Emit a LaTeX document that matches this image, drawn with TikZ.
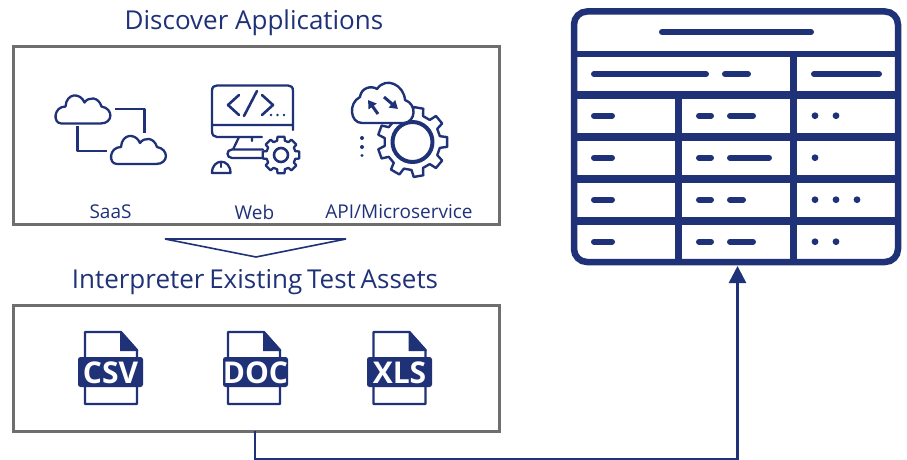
\documentclass[tikz,border=0pt]{standalone}
\usepackage{fontspec}
\setmainfont{Open Sans}
\usetikzlibrary{arrows.meta,calc}
\definecolor{navy}{HTML}{1F3278}
\definecolor{boxgray}{HTML}{6E6E6E}
\tikzset{
  panel/.style={draw=boxgray,line width=3pt,inner sep=0pt,outer sep=0pt,anchor=north west},
  heading/.style={text=navy,font=\fontsize{26}{28}\selectfont,inner sep=0pt},
  caption/.style={text=navy,font=\fontsize{19}{21}\selectfont,inner sep=0pt},
  icon/.style={draw=navy,line width=2.3pt,line cap=round,line join=round},
  grid/.style={draw=navy,line width=6.5pt},
  gridb/.style={draw=navy,line width=8pt},
  bar/.style={draw=navy,line width=6pt,line cap=round},
  dotm/.style={fill=navy,draw=none},
  flow/.style={draw=navy,line width=2.5pt},
  filetag/.style={fill=navy,rounded corners=2.5pt,draw=none},
  filetext/.style={text=white,font=\bfseries\fontsize{30}{30}\selectfont,inner sep=0pt},
  fileicon/.style={draw=navy,line width=2.2pt,line join=round,fill=white},
}
\newcommand{\cloudshape}[3]{% x y scale
  \begin{scope}[shift={(#1,#2)},scale=#3]
  \draw[icon] (-22,14) -- (17,14) .. controls (30,14) and (30,-1) .. (18,-3)
   .. controls (15,-13) and (5,-13) .. (1,-7)
   .. controls (-3,-17) and (-17,-17) .. (-18,-3)
   .. controls (-30,-3) and (-31,14) .. (-22,14) -- cycle;
  \end{scope}}
\newcommand{\gearshape}[6]{% x y outer lw period halfwidth
  \pgfmathsetmacro{\ro}{#3}\pgfmathsetmacro{\ri}{#3*0.80}
  \pgfmathsetmacro{\nxt}{#5}\pgfmathsetmacro{\hw}{#6}
  \pgfmathsetmacro{\sec}{2*#5}\pgfmathsetmacro{\lst}{360-#5}
  \pgfmathsetmacro{\aa}{#6}\pgfmathsetmacro{\bb}{#6+4}\pgfmathsetmacro{\cc}{#5-#6-4}
  \draw[icon,fill=white,line width=#4pt]
   \foreach \a [count=\n] in {0,\nxt,...,\lst} {
     \ifnum\n=1 ($(#1,#2)+(\a-\aa:\ro)$) \else -- ($(#1,#2)+(\a-\aa:\ro)$) \fi
     -- ($(#1,#2)+(\a+\aa:\ro)$) -- ($(#1,#2)+(\a+\bb:\ri)$) -- ($(#1,#2)+(\a+\cc:\ri)$)
   } -- cycle;
}
\newcommand{\fileglyph}[4]{% x tagx name text
  \draw[fileicon] (#1-26,332) -- (#1+10,332) -- (#1+26,350) -- (#1+26,404) -- (#1-26,404) -- cycle;
  \fill[navy] (#1+9,332) -- (#1+11,332) -- (#1+27,350) -- (#1+27,351) -- (#1+9,351) -- cycle;
  \path[filetag] (#2-32.5,357) rectangle (#2+32.5,387);
  \node[filetext] (#3) at (#2,372.5) {#4};
}
\begin{document}
\begin{tikzpicture}[x=1pt,y=-1pt]
\useasboundingbox (0,0) rectangle (907,460);
% panels
\node[panel,minimum width=486pt,minimum height=177.5pt] (discover) at (13,47) {};
\node[panel,minimum width=486pt,minimum height=126pt] (assets) at (13,305) {};
% headings
\node[heading] (h1) at (254,22.5) {Discover Applications};
\node[heading] (h2) at (255,282) {\spaceskip=0.185em Interpreter Existing Test Assets};
% captions
\node[caption] (saas) at (110.5,212) {SaaS};
\node[caption] (web) at (254.5,212) {Web};
\node[caption] (api) at (399,212) {API/Microservice};
% SaaS icon
\cloudshape{83.5}{109.5}{1}
\cloudshape{139}{150}{1}
\draw[icon,line cap=butt] (115,109) -- (144.5,109) -- (144.5,133);
\draw[icon,line cap=butt] (77.5,126) -- (77.5,151) -- (107,151);
% Web icon
\draw[icon] (212,125) -- (212,91) .. controls (212,87) and (214,85.5) .. (217,85.5) -- (288,85.5) .. controls (291,85.5) and (293,87) .. (293,91) -- (293,130)
  (293,125) -- (212,125) -- (212,131) .. controls (212,135) and (214,137) .. (217,137) -- (262,137);
\draw[icon] (239,137) -- (233,149.5) (252,137) -- (252,141)
  (263,149.5) -- (232,149.5) .. controls (226,149.5) and (226,158) .. (232,158) -- (262,158);
\draw[icon,line width=2.6pt] (239,95) -- (228,105) -- (239,115);
\draw[icon,line width=2.6pt] (257,91) -- (244,116);
\draw[icon,line width=2.6pt] (262,95) -- (273,105) -- (262,115);
\foreach \xx in {271,277.5,284} \fill[navy] (\xx,115) circle (1.3);
\draw[icon] (212,173) -- (230.5,173) .. controls (230.5,158) and (212,158) .. (212,173) -- cycle;
\draw[icon] (221,163) -- (221,167);
\gearshape{281}{155}{18.5}{2.3}{45}{11}
\draw[icon,line width=2.6pt] (281,155) circle (7);
% API icon
\gearshape{412.5}{142}{35}{2.4}{40}{8}
\draw[icon,line width=4pt] (412.5,142) circle (20);
\draw[icon,line width=2.4pt,fill=white] (362,123) -- (404,123) .. controls (416,122) and (417,104) .. (405,100)
  .. controls (404,85) and (386,76) .. (377,89)
  .. controls (371,85) and (361,88) .. (360,97)
  .. controls (348,103) and (350,123) .. (362,123) -- cycle;
\draw[draw=navy,line width=3pt,-{Triangle[length=8pt,width=9.5pt]}] (378,114) -- (368,100);
\draw[draw=navy,line width=3pt,-{Triangle[length=8pt,width=9.5pt]}] (384,97) -- (398,109);
\foreach \yy/\rr in {138/2,147/2,155.5/1.6} \fill[navy] (362,\yy) circle (\rr);
% triangle
\draw[draw=navy,line width=1.6pt,line join=miter] (165,239) -- (346,239) -- (256,257) -- cycle;
% files
\fileglyph{111}{110.5}{csv}{CSV}
\fileglyph{254}{255.5}{doc}{DOC}
\fileglyph{399.5}{399.5}{xls}{XLS}
% table
\node[draw=navy,line width=6.5pt,rounded corners=13pt,minimum width=324pt,minimum height=250.5pt,inner sep=0pt,outer sep=0pt,anchor=north west] (tbl) at (574,11.5) {};
\draw[grid] (574,54) -- (898,54);
\foreach \yy in {94.7,136.7,178.7,220.7} \draw[gridb] (574,\yy) -- (898,\yy);
\draw[grid] (793.7,54) -- (793.7,262);
\draw[grid] (678.7,95) -- (678.7,262);
\draw[bar] (662,32) -- (811,32);
\draw[bar] (594,74) -- (706,74);
\draw[bar] (725,74) -- (748,74);
\draw[bar] (814,74) -- (879,74);
\foreach \yy/\xb in {115.7/753,157.7/769,199.7/743,241.7/753} {
  \draw[bar] (594,\yy) -- (612,\yy);
  \draw[bar] (699,\yy) -- (711,\yy);
  \draw[bar] (730,\yy) -- (\xb,\yy);
}
\foreach \xx/\yy in {815/115.7,836/115.7,815/157.7,815/199.7,836/199.7,857/199.7,815/241.7,836/241.7}
  \fill[dotm] (\xx,\yy) circle (3.4);
% connector
\coordinate (c1) at (255,459);
\coordinate (c2) at (737.5,459);
\draw[flow,-{Triangle[length=17pt,width=17pt]},shorten >=4pt] (assets.south -| c1) -- (c1) -- (c2) -- (tbl.south -| c2);
\end{tikzpicture}
\end{document}
